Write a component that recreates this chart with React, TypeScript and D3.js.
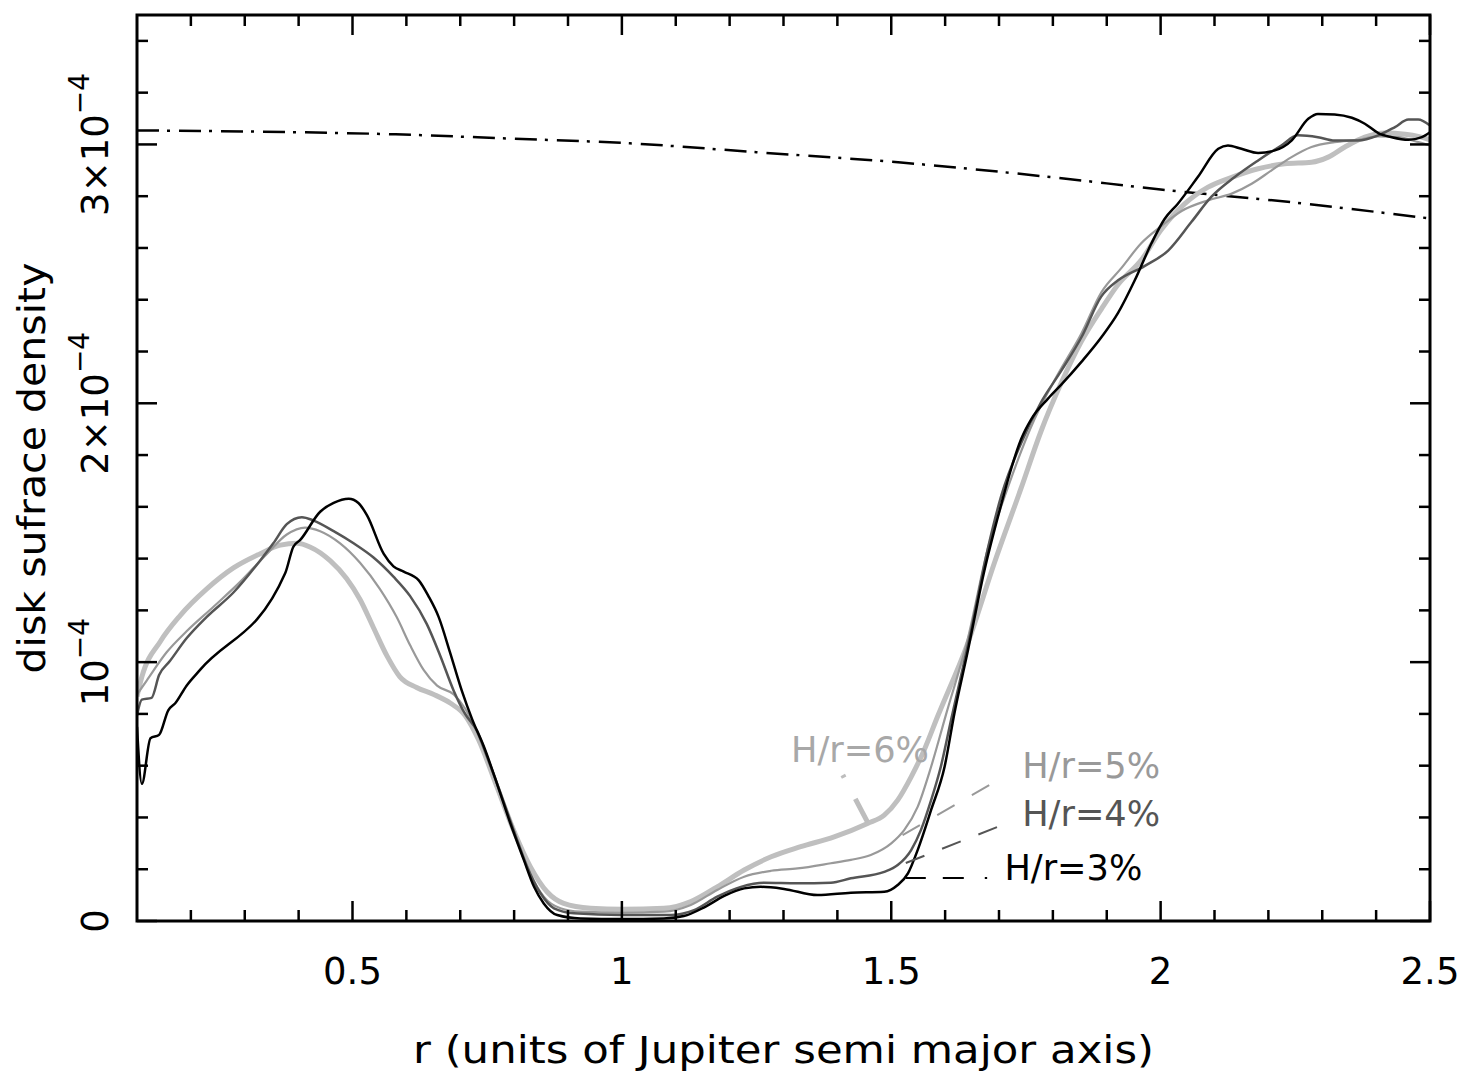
import React from 'react';
import * as d3 from 'd3';

// radius (units of Jupiter a) and surface density (units of 1e-4)
const R_H3 = [0.100, 0.109, 0.125, 0.141, 0.158, 0.171, 0.192, 0.217, 0.375, 0.390, 0.403, 0.440, 0.465, 0.493, 0.511, 0.527, 0.558, 0.576, 0.595, 0.623, 0.641, 0.660, 0.681, 0.703, 0.722, 0.744, 0.768, 0.793, 0.818, 0.837, 0.855, 0.880, 0.923, 1.001, 1.078, 1.115, 1.153, 1.190, 1.227, 1.258, 1.301, 1.363, 1.425, 1.487, 1.512, 1.531, 1.549, 1.574, 1.599, 1.617, 1.642, 1.673, 1.704, 1.723, 1.741, 1.760, 1.791, 1.816, 1.853, 1.890, 1.921, 1.952, 1.983, 2.007, 2.032, 2.069, 2.107, 2.125, 2.150, 2.181, 2.212, 2.243, 2.274, 2.292, 2.323, 2.355, 2.379, 2.404, 2.429, 2.460, 2.485, 2.500];
const S_H3 = [0.75, 0.53, 0.706, 0.719, 0.814, 0.841, 0.909, 0.970, 1.343, 1.445, 1.472, 1.581, 1.615, 1.631, 1.615, 1.567, 1.418, 1.370, 1.350, 1.316, 1.255, 1.174, 1.038, 0.889, 0.78, 0.673, 0.532, 0.377, 0.236, 0.132, 0.068, 0.023, 0.010, 0.008, 0.010, 0.019, 0.053, 0.097, 0.126, 0.132, 0.124, 0.100, 0.109, 0.113, 0.139, 0.184, 0.274, 0.429, 0.596, 0.80, 1.042, 1.355, 1.608, 1.750, 1.861, 1.939, 2.018, 2.073, 2.160, 2.255, 2.349, 2.475, 2.618, 2.711, 2.771, 2.874, 2.983, 2.996, 2.983, 2.967, 2.977, 3.015, 3.099, 3.118, 3.116, 3.103, 3.080, 3.044, 3.028, 3.018, 3.028, 3.047];

const R_H4 = [0.100, 0.109, 0.127, 0.141, 0.161, 0.192, 0.229, 0.279, 0.328, 0.353, 0.378, 0.406, 0.428, 0.465, 0.502, 0.539, 0.576, 0.607, 0.638, 0.663, 0.688, 0.709, 0.731, 0.750, 0.775, 0.799, 0.824, 0.849, 0.874, 0.911, 1.001, 1.091, 1.134, 1.177, 1.221, 1.264, 1.326, 1.388, 1.425, 1.487, 1.512, 1.537, 1.555, 1.574, 1.592, 1.611, 1.648, 1.679, 1.704, 1.741, 1.778, 1.816, 1.853, 1.890, 1.921, 1.970, 2.014, 2.057, 2.094, 2.137, 2.181, 2.224, 2.255, 2.292, 2.323, 2.366, 2.404, 2.435, 2.460, 2.478, 2.500];
const S_H4 = [0.794, 0.855, 0.862, 0.950, 1.004, 1.092, 1.174, 1.269, 1.391, 1.459, 1.533, 1.560, 1.547, 1.506, 1.459, 1.404, 1.330, 1.255, 1.147, 1.024, 0.889, 0.800, 0.735, 0.634, 0.493, 0.351, 0.210, 0.107, 0.049, 0.030, 0.023, 0.023, 0.042, 0.094, 0.132, 0.148, 0.146, 0.148, 0.165, 0.190, 0.216, 0.274, 0.351, 0.467, 0.596, 0.776, 1.120, 1.436, 1.641, 1.846, 2.004, 2.127, 2.255, 2.413, 2.475, 2.530, 2.590, 2.700, 2.797, 2.873, 2.938, 2.996, 3.035, 3.028, 3.015, 3.015, 3.035, 3.067, 3.096, 3.096, 3.073];

const R_H5 = [0.100, 0.118, 0.155, 0.192, 0.242, 0.291, 0.341, 0.378, 0.412, 0.440, 0.477, 0.514, 0.551, 0.582, 0.607, 0.632, 0.657, 0.688, 0.709, 0.731, 0.756, 0.781, 0.806, 0.830, 0.855, 0.886, 0.923, 1.001, 1.078, 1.128, 1.177, 1.227, 1.277, 1.326, 1.388, 1.425, 1.462, 1.500, 1.524, 1.549, 1.574, 1.602, 1.642, 1.679, 1.716, 1.766, 1.809, 1.853, 1.890, 1.927, 1.964, 2.001, 2.039, 2.088, 2.132, 2.169, 2.206, 2.243, 2.280, 2.323, 2.366, 2.404, 2.441, 2.478, 2.500];
const S_H5 = [0.875, 0.929, 1.038, 1.119, 1.214, 1.309, 1.418, 1.493, 1.520, 1.506, 1.459, 1.384, 1.282, 1.174, 1.065, 0.970, 0.909, 0.875, 0.821, 0.730, 0.596, 0.454, 0.313, 0.184, 0.094, 0.049, 0.036, 0.032, 0.036, 0.062, 0.120, 0.171, 0.194, 0.203, 0.223, 0.236, 0.255, 0.300, 0.351, 0.441, 0.596, 0.80, 1.089, 1.436, 1.672, 1.939, 2.111, 2.270, 2.429, 2.522, 2.618, 2.684, 2.743, 2.784, 2.810, 2.848, 2.900, 2.951, 2.990, 3.009, 3.018, 3.031, 3.028, 3.009, 2.996];

const R_H6 = [0.100, 0.109, 0.143, 0.180, 0.229, 0.279, 0.328, 0.366, 0.397, 0.421, 0.459, 0.489, 0.514, 0.539, 0.564, 0.588, 0.619, 0.651, 0.682, 0.709, 0.734, 0.768, 0.799, 0.830, 0.861, 0.892, 0.942, 1.001, 1.078, 1.128, 1.177, 1.227, 1.277, 1.332, 1.394, 1.456, 1.487, 1.512, 1.537, 1.561, 1.586, 1.642, 1.692, 1.741, 1.778, 1.816, 1.853, 1.890, 1.921, 1.964, 2.001, 2.045, 2.088, 2.132, 2.181, 2.230, 2.280, 2.311, 2.342, 2.379, 2.416, 2.454, 2.478, 2.500];
const S_H6 = [0.868, 0.943, 1.079, 1.180, 1.282, 1.364, 1.418, 1.452, 1.459, 1.445, 1.391, 1.323, 1.242, 1.133, 1.024, 0.943, 0.902, 0.875, 0.841, 0.794, 0.700, 0.519, 0.351, 0.210, 0.113, 0.068, 0.049, 0.045, 0.049, 0.075, 0.132, 0.197, 0.248, 0.287, 0.325, 0.377, 0.409, 0.467, 0.557, 0.660, 0.79, 1.073, 1.387, 1.672, 1.892, 2.081, 2.239, 2.364, 2.459, 2.553, 2.670, 2.771, 2.835, 2.873, 2.906, 2.925, 2.931, 2.951, 2.990, 3.028, 3.044, 3.039, 3.031, 3.018];

// initial profile (dash-dot)
const R_INIT = [0.1, 0.3, 0.58, 0.8, 1.0, 1.25, 1.518, 1.8, 2.0, 2.25, 2.5];
const S_INIT = [3.054, 3.050, 3.039, 3.022, 3.006, 2.970, 2.930, 2.873, 2.826, 2.775, 2.714];

const X_MAJOR = [0.5, 1, 1.5, 2, 2.5];
const X_LABELS = ['0.5', '1', '1.5', '2', '2.5'];
const Y_MAJOR = [0, 1, 2, 3];

// labels: text, anchor (r, sigma), colour
const LABELS = [
  { text: 'H/r=6%', r: 1.314, s: 0.614, color: '#a8a8a8' },
  { text: 'H/r=5%', r: 1.743, s: 0.552, color: '#999999' },
  { text: 'H/r=4%', r: 1.743, s: 0.367, color: '#555555' },
  { text: 'H/r=3%', r: 1.710, s: 0.158, color: '#000000' },
];
// leader lines: from (r0,s0) to (r1,s1)
const LEADERS = [
  { r0: 1.41, s0: 0.564, r1: 1.456, s1: 0.382, color: '#bdbdbd', w: 5, dash: '3 24 40' },
  { r0: 1.521, s0: 0.332, r1: 1.682, s1: 0.525, color: '#999999', w: 2, dash: '20 20' },
  { r0: 1.527, s0: 0.224, r1: 1.698, s1: 0.364, color: '#555555', w: 2, dash: '20 19' },
  { r0: 1.527, s0: 0.166, r1: 1.678, s1: 0.166, color: '#000000', w: 2, dash: '20 17 21 21 3 100' },
];

const UNIT = 1e-4;
const L = 137, R = 1430, T = 15, B = 921;
const FONT = '"DejaVu Sans", sans-serif';

export default function App() {
  const x = d3.scaleLinear().domain([0.1, 2.5]).range([L, R]);
  const y = d3.scaleLinear().domain([0, 3.5 * UNIT]).range([B, T]);
  const line = d3.line<[number, number]>()
    .x(d => x(d[0]))
    .y(d => y(d[1] * UNIT))
    .curve(d3.curveMonotoneX);
  const zip = (a: number[], b: number[]) => a.map((v, i) => [v, b[i]] as [number, number]);

  const series = [
    { r: R_H6, s: S_H6, color: '#bfbfbf', w: 5 },
    { r: R_H5, s: S_H5, color: '#999999', w: 2.2 },
    { r: R_H4, s: S_H4, color: '#555555', w: 2.5 },
    { r: R_H3, s: S_H3, color: '#000000', w: 2.5 },
  ];

  const xMinor = x.ticks(24).filter(t => !X_MAJOR.some(m => Math.abs(m - t) < 1e-6) && t > 0.11);
  const yMinor = d3.range(0, 3.51, 0.2).filter(t => !Y_MAJOR.some(m => Math.abs(m - t) < 1e-6) && t < 3.49);

  const tk = (len: number) => len;

  return (
    <svg width={1467} height={1072} style={{ position: 'absolute', left: 0, top: 0, background: '#fff' }}
      fontFamily={FONT}>
      <defs>
        <clipPath id="plot"><rect x={L} y={T} width={R - L} height={B - T} /></clipPath>
      </defs>
      <g clipPath="url(#plot)" fill="none" strokeLinejoin="round">
        <path d={line(zip(R_INIT, S_INIT)) || ''} stroke="#000" strokeWidth={2.5} strokeDasharray="22 8 3 9" />
        {series.map((s, i) => (
          <path key={i} d={line(zip(s.r, s.s)) || ''} stroke={s.color} strokeWidth={s.w} />
        ))}
      </g>
      {LEADERS.map((l, i) => (
        <line key={i} x1={x(l.r0)} y1={y(l.s0 * UNIT)} x2={x(l.r1)} y2={y(l.s1 * UNIT)}
          stroke={l.color} strokeWidth={l.w} strokeDasharray={l.dash} />
      ))}
      {LABELS.map((l, i) => (
        <text key={i} x={x(l.r)} y={y(l.s * UNIT)} fill={l.color} fontSize={36}
          textLength={138} lengthAdjust="spacingAndGlyphs">{l.text}</text>
      ))}
      {/* frame */}
      <rect x={L} y={T} width={R - L} height={B - T} fill="none" stroke="#000" strokeWidth={3} />
      {/* x ticks */}
      <g stroke="#000" strokeWidth={2.5}>
        {X_MAJOR.map(t => (
          <g key={'xM' + t}>
            <line x1={x(t)} x2={x(t)} y1={B} y2={B - tk(20)} />
            <line x1={x(t)} x2={x(t)} y1={T} y2={T + tk(20)} />
          </g>
        ))}
        {xMinor.map(t => (
          <g key={'xm' + t}>
            <line x1={x(t)} x2={x(t)} y1={B} y2={B - tk(11)} />
            <line x1={x(t)} x2={x(t)} y1={T} y2={T + tk(11)} />
          </g>
        ))}
        {Y_MAJOR.map(t => (
          <g key={'yM' + t}>
            <line x1={L} x2={L + 20} y1={y(t * UNIT)} y2={y(t * UNIT)} />
            <line x1={R} x2={R - 20} y1={y(t * UNIT)} y2={y(t * UNIT)} />
          </g>
        ))}
        {yMinor.map(t => (
          <g key={'ym' + t}>
            <line x1={L} x2={L + 11} y1={y(t * UNIT)} y2={y(t * UNIT)} />
            <line x1={R} x2={R - 11} y1={y(t * UNIT)} y2={y(t * UNIT)} />
          </g>
        ))}
      </g>
      {/* x tick labels */}
      {X_MAJOR.map((t, i) => (
        <text key={'xl' + t} x={x(t)} y={984} textAnchor="middle" fontSize={37} fill="#000">{X_LABELS[i]}</text>
      ))}
      {/* y tick labels, rotated */}
      {Y_MAJOR.map(t => (
        <text key={'yl' + t} transform={`translate(108,${y(t * UNIT)}) rotate(-90)`} textAnchor="middle"
          fontSize={37} fill="#000">
          {t === 0 ? '0' : (
            <>
              {t === 1 ? '' : `${t}×`}10
              <tspan fontSize={28} dy={-19}>−4</tspan>
            </>
          )}
        </text>
      ))}
      {/* axis titles */}
      <text x={(L + R) / 2} y={1063} textAnchor="middle" fontSize={37} textLength={741}
        lengthAdjust="spacingAndGlyphs">r (units of Jupiter semi major axis)</text>
      <text transform={`translate(45,${(T + B) / 2}) rotate(-90)`} textAnchor="middle" fontSize={37}
        textLength={411} lengthAdjust="spacingAndGlyphs">disk sufrace density</text>
    </svg>
  );
}
